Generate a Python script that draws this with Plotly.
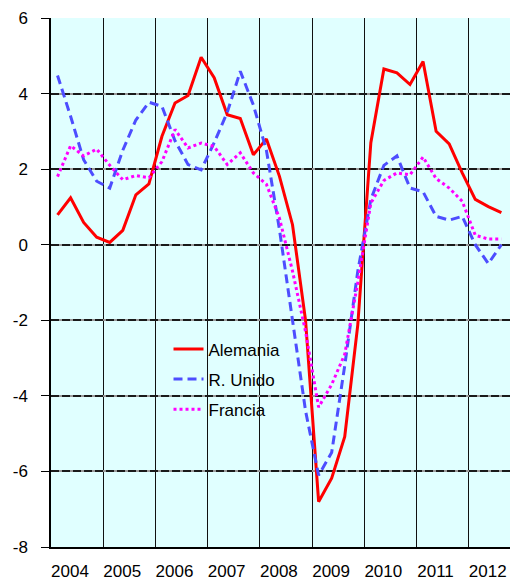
import plotly.graph_objects as go

years = [2004, 2005, 2006, 2007, 2008, 2009, 2010, 2011, 2012]
year_labels = [str(y) for y in years]
y_ticks = [-8, -6, -4, -2, 0, 2, 4, 6]
y_labels = [str(v) for v in y_ticks]
# quarters 2004T1 .. 2012T3
quarters = [(y, q) for y in years for q in range(1, 5)][:35]

alemania = [0.79, 1.24, 0.59, 0.2, 0.06, 0.38, 1.32, 1.61, 2.87, 3.75, 3.95, 4.96,
            4.42, 3.44, 3.34, 2.38, 2.8, 1.81, 0.53, -2.0, -6.8, -6.18, -5.08, -2.12,
            2.7, 4.65, 4.55, 4.24, 4.85, 3.0, 2.67, 1.9, 1.2, 1.01, 0.85]
r_unido = [4.48, 3.4, 2.25, 1.68, 1.5, 2.5, 3.3, 3.77, 3.66, 2.75, 2.12, 1.98,
           2.7, 3.5, 4.59, 3.7, 2.5, 0.4, -2.0, -4.4, -6.1, -5.5, -3.2, -0.7,
           1.2, 2.1, 2.35, 1.5, 1.4, 0.75, 0.65, 0.75, 0.0, -0.5, 0.0]
francia = [1.8, 2.62, 2.35, 2.53, 2.1, 1.72, 1.83, 1.77, 2.2, 3.05, 2.56, 2.69,
           2.6, 2.12, 2.43, 1.9, 1.6, 0.7, -0.7, -2.3, -4.3, -3.7, -2.9, -1.0,
           1.1, 1.7, 1.9, 1.85, 2.32, 1.75, 1.5, 1.15, 0.25, 0.15, 0.15]

x = [y + (q - 0.5) / 4 for (y, q) in quarters]

fig = go.Figure()
fig.add_trace(go.Scatter(x=x, y=alemania, name="Alemania", mode="lines",
                         legendgroup="a",
                         line=dict(color="#FF0000", width=3)))
fig.add_trace(go.Scatter(x=x, y=r_unido, name="R. Unido", mode="lines",
                         legendgroup="b",
                         line=dict(color="#4D4DFF", width=3, dash="9px,5px")))
fig.add_trace(go.Scatter(x=x, y=francia, name="Francia", mode="lines",
                         legendgroup="c",
                         line=dict(color="#FF00FF", width=3, dash="3px,3px")))
# empty helper trace so the overlay axis (dashed grid) is drawn
fig.add_trace(go.Scatter(x=[], y=[], yaxis="y2", showlegend=False,
                         hoverinfo="skip"))

fig.update_layout(
    width=510, height=581,
    margin=dict(l=51, r=0, t=18, b=34, autoexpand=False),
    paper_bgcolor="white",
    plot_bgcolor="#E0FFFF",
    font=dict(family="Arial, Liberation Sans, sans-serif", size=17, color="black"),
    showlegend=True,
    legend=dict(x=0.256, y=0.4075, xanchor="left", yanchor="top",
                bgcolor="rgba(0,0,0,0)", tracegroupgap=5,
                font=dict(size=17)),
    xaxis=dict(
        range=[2004, 2012.79], automargin=False,
        tickvals=[y + 0.364 for y in years],
        ticktext=year_labels,
        ticks="", showgrid=False, zeroline=False,
        showline=True, linecolor="black", linewidth=1.5,
        ticklabelstandoff=8, ticklabeloverflow="allow",
        minor=dict(tick0=2004, dtick=1, showgrid=True, gridcolor="#111111",
                   gridwidth=1.2, ticks=""),
    ),
    yaxis=dict(
        range=[-8, 6], automargin=False,
        tickvals=y_ticks, ticktext=y_labels,
        ticks="outside", ticklen=8, tickcolor="black", tickwidth=1,
        showgrid=True, gridcolor="#9a9a9a", gridwidth=1.5,
        zeroline=False,
        showline=True, linecolor="black", linewidth=1.5,
        ticklabelstandoff=10,
    ),
    yaxis2=dict(
        range=[-8, 6], overlaying="y", side="left", automargin=False,
        tickvals=y_ticks, showticklabels=False, ticks="",
        showgrid=True, gridcolor="#1a1a1a", gridwidth=1.5, griddash="8px,3px",
        zeroline=False, showline=False,
    ),
)

fig.write_html(
    "out.html",
    config={"displayModeBar": False},
    post_script="document.body.style.margin='0';"
                "document.body.style.overflow='hidden';",
)
